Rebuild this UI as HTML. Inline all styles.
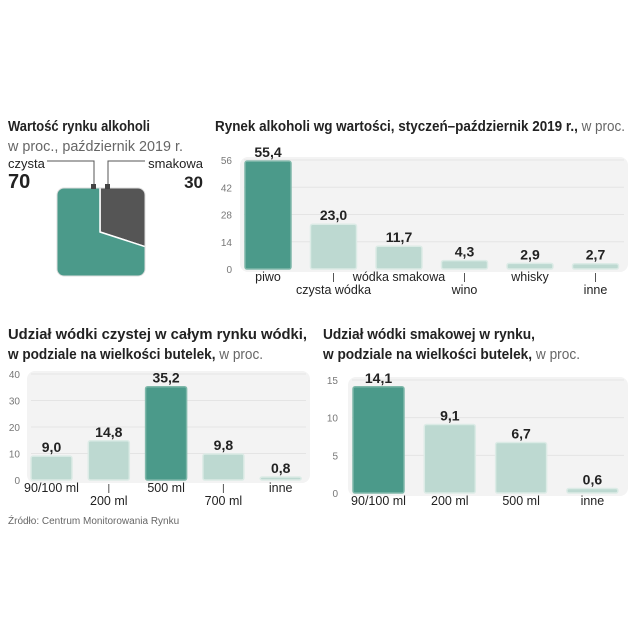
<!DOCTYPE html>
<html><head><meta charset="utf-8">
<style>
body{margin:0;width:640px;height:640px;background:#fff;font-family:"Liberation Sans",sans-serif;position:relative;overflow:hidden}
svg{position:absolute;left:0;top:0}
</style></head>
<body>
<svg id="c" width="640" height="640"></svg>
<script>
const pieLabels=["czysta","smakowa"];
const pieValues=[70,30];
const c1Cats=["piwo","czysta wódka","wódka smakowa","wino","whisky","inne"];
const c1Vals=[55.4,23.0,11.7,4.3,2.9,2.7];
const c1Ticks=[0,14,28,42,56];
const c2Cats=["90/100 ml","200 ml","500 ml","700 ml","inne"];
const c2Vals=[9.0,14.8,35.2,9.8,0.8];
const c2Ticks=[0,10,20,30,40];
const c3Cats=["90/100 ml","200 ml","500 ml","inne"];
const c3Vals=[14.1,9.1,6.7,0.6];
const c3Ticks=[0,5,10,15];

const NS="http://www.w3.org/2000/svg";
const svg=document.getElementById('c');
function el(t,a,p){const e=document.createElementNS(NS,t);for(const k in a)e.setAttribute(k,a[k]);(p||svg).appendChild(e);return e;}
function txt(x,y,s,a){const e=el('text',Object.assign({x:x,y:y,'font-size':13,fill:'#222'},a||{}));e.textContent=s;return e;}
const DARK="#4b9a8a",LIGHT="#bdd9d1";
const FIT={lengthAdjust:'spacingAndGlyphs'};

let t;
t=txt(8,131,"Wartość rynku alkoholi",Object.assign({'font-size':15,'font-weight':'bold',textLength:142},FIT));

t=txt(8,151,"w proc., październik 2019 r.",Object.assign({'font-size':14.5,fill:'#666',textLength:175},FIT));

t=el('text',Object.assign({x:215,y:131,'font-size':15,'font-weight':'bold',fill:'#222',textLength:410},FIT));
t.innerHTML='Rynek alkoholi wg wartości, styczeń–październik 2019 r.,<tspan font-weight="normal" fill="#666"> w proc.</tspan>';

t=txt(8,339,"Udział wódki czystej w całym rynku wódki,",Object.assign({'font-size':15,'font-weight':'bold',textLength:299},FIT));

t=el('text',Object.assign({x:8,y:359,'font-size':15,'font-weight':'bold',fill:'#222',textLength:255},FIT));
t.innerHTML='w podziale na wielkości butelek,<tspan font-weight="normal" fill="#666"> w proc.</tspan>';

t=txt(323,339,"Udział wódki smakowej w rynku,",Object.assign({'font-size':15,'font-weight':'bold',textLength:212},FIT));

t=el('text',Object.assign({x:323,y:359,'font-size':15,'font-weight':'bold',fill:'#222',textLength:257},FIT));
t.innerHTML='w podziale na wielkości butelek,<tspan font-weight="normal" fill="#666"> w proc.</tspan>';

t=txt(8,524,"Źródło: Centrum Monitorowania Rynku",{'font-size':10,fill:'#666'});


const defs=el('defs',{});
const cp=el('clipPath',{id:'sq'},defs);
el('rect',{x:57,y:188,width:88,height:88,rx:7},cp);
const g=el('g',{'clip-path':'url(#sq)'});
const cx=100,cy=232,R=120;
const total=pieValues.reduce((a,b)=>a+b,0);
let start=0;
const order=[1,0];const cols=["#4b9a8a","#555555"];
order.forEach(i=>{
  const a0=start/total*2*Math.PI, a1=(start+pieValues[i])/total*2*Math.PI;
  start+=pieValues[i];
  const x0=cx+R*Math.sin(a0),y0=cy-R*Math.cos(a0),x1=cx+R*Math.sin(a1),y1=cy-R*Math.cos(a1);
  const large=(a1-a0)>Math.PI?1:0;
  const p=el('path',{d:`M${cx},${cy} L${x0},${y0} A${R},${R} 0 ${large} 1 ${x1},${y1} Z`,fill:cols[i],stroke:'#fff','stroke-width':1.5},g);
  
  
});
el('rect',{x:57,y:188,width:88,height:88,rx:7,fill:'none',stroke:'#ddd','stroke-width':1});
t=txt(8,168,pieLabels[0],{'font-size':13});
t=txt(8,188,String(pieValues[0]),{'font-size':20,'font-weight':'bold'});
t=txt(203,168,pieLabels[1],{'font-size':13,'text-anchor':'end'});
t=txt(203,188,String(pieValues[1]),{'font-size':17,'font-weight':'bold','text-anchor':'end'});
el('polyline',{points:'47,161 94,161 94,186',fill:'none',stroke:'#555','stroke-width':1});
el('polyline',{points:'145,161 108,161 108,186',fill:'none',stroke:'#555','stroke-width':1});
el('rect',{x:91,y:184,width:5,height:5,fill:'#444'});
el('rect',{x:105,y:184,width:5,height:5,fill:'#444'});

function bars(o){
  const y=v=>o.y0-(v-o.ticks[0])/(o.ticks[o.ticks.length-1]-o.ticks[0])*(o.y0-o.yTop);
  const bg=el('rect',{x:o.px,y:o.yTop-3,width:o.pw,height:o.y0-o.yTop+6,rx:8,fill:'#f3f3f3'});
  
  o.ticks.forEach(tv=>{
    const yy=y(tv);
    if(tv>0)el('line',{x1:o.px+4,x2:o.px+o.pw-4,y1:yy,y2:yy,stroke:'#e4e4e4','stroke-width':1});
    const tt=txt(o.ax,yy+4,String(tv),{'font-size':10,fill:'#777','text-anchor':'end'});
    
  });
  const mx=Math.max(...o.vals);
  o.cats.forEach((c,i)=>{
    const x=o.x0+i*o.step, v=o.vals[i], top=Math.min(y(v),o.y0-3);
    const dark=v===mx;
    const r=el('rect',{x:x,y:top,width:o.bw,height:o.y0-top,rx:2,fill:dark?DARK:LIGHT,stroke:dark?'#7fb8aa':'#dcebe6','stroke-width':1.5});
    
    const vl=txt(x+o.bw/2,top-4,v.toFixed(1).replace('.',','),{'font-size':14,'font-weight':'bold','text-anchor':'middle'});
    
    const low=o.alt&&i%2===1;
    if(low)el('line',{x1:x+o.bw/2,x2:x+o.bw/2,y1:o.y0+4,y2:o.y0+13,stroke:'#555','stroke-width':1});
    const cl=txt(x+o.bw/2,o.y0+(low?25:12),c,{'font-size':12.5,'text-anchor':'middle'});
    
  });
}
bars({name:'chart1',cats:c1Cats,vals:c1Vals,ticks:c1Ticks,y0:269,yTop:160,px:240,pw:388,x0:245,step:65.5,bw:46,ax:232,alt:true});
bars({name:'chart2',cats:c2Cats,vals:c2Vals,ticks:c2Ticks,y0:480,yTop:374,px:27,pw:283,x0:31,step:57.3,bw:41,ax:20,alt:true});
bars({name:'chart3',cats:c3Cats,vals:c3Vals,ticks:c3Ticks,y0:493,yTop:380,px:348,pw:280,x0:353,step:71.3,bw:51,ax:338,alt:false});
</script>
</body></html>
